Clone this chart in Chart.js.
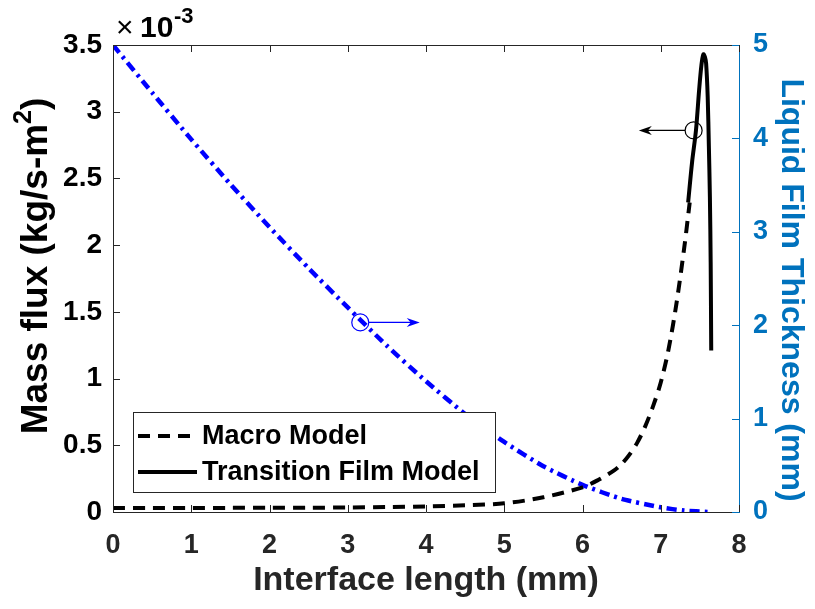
<!DOCTYPE html>
<html><head><meta charset="utf-8">
<script src="https://cdn.jsdelivr.net/npm/chart.js@4/dist/chart.umd.min.js"></script>
<style>html,body{margin:0;padding:0;background:#fff}</style>
</head><body>
<canvas id="c" width="815" height="609"></canvas>
<script>
// ---- data ----
const seriesLabels = ['Macro Model', 'Transition Film Model', 'Liquid Film Thickness'];
const axisTitles = {x: 'Interface length (mm)', yMain: 'Mass flux (kg/s-m', ySup: '2', yEnd: ')', y2: 'Liquid Film Thickness (mm)'};
// Macro model mass flux (kg/s-m^2)
const macroX    = [0, 0.5, 1, 1.5, 2, 2.5, 3, 3.5, 4, 4.5, 5, 5.5, 6, 6.2, 6.4, 6.5, 6.6, 6.7, 6.8, 6.9, 7.0, 7.1, 7.2, 7.3, 7.37];
const macroFlux = [3.0e-5, 3.0e-5, 3.0e-5, 3.1e-5, 3.1e-5, 3.2e-5, 3.4e-5, 3.7e-5, 4.2e-5, 5.0e-5, 6.5e-5, 1.1e-4, 1.85e-4, 2.4e-4, 3.1e-4, 3.6e-4, 4.3e-4, 5.2e-4, 6.4e-4, 7.9e-4, 9.7e-4, 1.22e-3, 1.56e-3, 1.98e-3, 2.32e-3];
// Transition film model mass flux (kg/s-m^2)
const filmX    = [7.35, 7.40, 7.45, 7.49, 7.52, 7.545, 7.565, 7.58, 7.60, 7.615, 7.628, 7.638, 7.645];
const filmFlux = [2.32e-3, 2.62e-3, 2.86e-3, 3.16e-3, 3.35e-3, 3.43e-3, 3.41e-3, 3.36e-3, 3.11e-3, 2.74e-3, 2.36e-3, 1.87e-3, 1.21e-3];
// Liquid film thickness (mm)
const thickX    = [0, 0.5, 1, 1.5, 2, 2.5, 3, 3.5, 4, 4.5, 5, 5.5, 6, 6.5, 7, 7.3, 7.6];
const thickness = [5.00, 4.49, 3.99, 3.51, 3.05, 2.61, 2.19, 1.78, 1.40, 1.05, 0.75, 0.49, 0.29, 0.14, 0.05, 0.015, 0.0];
// axis ranges / ticks
const xRange = [0, 8];
const fluxRange = [0, 3.5e-3];
const fluxStep = 0.5e-3;
const thickRange = [0, 5];
// annotation markers (data coords): circle point, arrow end x
const fluxMarker  = {x: 7.42, y: 2.86e-3, arrowToX: 6.72};
const thickMarker = {x: 3.16, y: 2.03, arrowToX: 3.92};

const FONT = '"Liberation Sans", Arial, Helvetica, sans-serif';
const GRAY = '#262626';
const MBLUE = '#0072BD';

const pts = (xs, ys) => xs.map((x, i) => ({x, y: ys[i]}));

const decor = {
  id: 'decor',
  afterDraw(chart) {
    const ctx = chart.ctx, ca = chart.chartArea;
    const sx = chart.scales.x, sy = chart.scales.y, sy2 = chart.scales.y2;
    ctx.save();
    // top border
    ctx.strokeStyle = GRAY; ctx.lineWidth = 1;
    ctx.beginPath(); ctx.moveTo(ca.left, ca.top + 0.5); ctx.lineTo(ca.right, ca.top + 0.5); ctx.stroke();
    // inward ticks
    const TL = 7;
    sx.ticks.forEach(t => {
      const p = Math.round(sx.getPixelForValue(t.value)) + 0.5;
      ctx.strokeStyle = GRAY;
      ctx.beginPath(); ctx.moveTo(p, ca.bottom); ctx.lineTo(p, ca.bottom - TL); ctx.stroke();
      ctx.beginPath(); ctx.moveTo(p, ca.top); ctx.lineTo(p, ca.top + TL); ctx.stroke();
    });
    sy.ticks.forEach(t => {
      const p = Math.round(sy.getPixelForValue(t.value)) + 0.5;
      ctx.strokeStyle = GRAY;
      ctx.beginPath(); ctx.moveTo(ca.left, p); ctx.lineTo(ca.left + TL, p); ctx.stroke();
    });
    sy2.ticks.forEach(t => {
      const p = Math.round(sy2.getPixelForValue(t.value)) + 0.5;
      ctx.strokeStyle = MBLUE;
      ctx.beginPath(); ctx.moveTo(ca.right, p); ctx.lineTo(ca.right - TL, p); ctx.stroke();
    });

    // annotation markers
    function marker(scaleY, m, color) {
      const cx = sx.getPixelForValue(m.x), cy = scaleY.getPixelForValue(m.y);
      const ex = sx.getPixelForValue(m.arrowToX);
      const r = 8.5, dir = ex > cx ? 1 : -1;
      ctx.strokeStyle = color; ctx.fillStyle = color; ctx.lineWidth = 1.2;
      ctx.beginPath(); ctx.arc(cx, cy, r, 0, Math.PI * 2); ctx.stroke();
      ctx.beginPath(); ctx.moveTo(cx + dir * r, cy); ctx.lineTo(ex - dir * 6, cy); ctx.stroke();
      ctx.beginPath();
      ctx.moveTo(ex, cy);
      ctx.lineTo(ex - dir * 13, cy - 4.5);
      ctx.lineTo(ex - dir * 9, cy);
      ctx.lineTo(ex - dir * 13, cy + 4.5);
      ctx.closePath(); ctx.fill();
    }
    marker(sy2, thickMarker, '#0000FF');
    marker(sy, fluxMarker, '#000000');

    // exponent label
    ctx.fillStyle = '#000';
    ctx.textBaseline = 'alphabetic'; ctx.textAlign = 'left';
    ctx.font = '30px ' + FONT;
    ctx.fillText('\u00D7', ca.left + 3, ca.top - 8);
    ctx.font = 'bold 30px ' + FONT;
    ctx.fillText('10', ca.left + 27, ca.top - 8);
    ctx.font = 'bold 22px ' + FONT;
    ctx.fillText('-3', ca.left + 61, ca.top - 22);

    // left axis title with superscript
    ctx.save();
    const fMain = 'bold 37px ' + FONT, fSup = 'bold 25px ' + FONT;
    ctx.font = fMain; const w1 = ctx.measureText(axisTitles.yMain).width, w3 = ctx.measureText(axisTitles.yEnd).width;
    ctx.font = fSup; const w2 = ctx.measureText(axisTitles.ySup).width;
    const tot = w1 + w2 + w3;
    ctx.translate(35, 266);
    ctx.rotate(-Math.PI / 2);
    ctx.fillStyle = '#000'; ctx.textBaseline = 'middle'; ctx.textAlign = 'left';
    let x0 = -tot / 2;
    ctx.font = fMain; ctx.fillText(axisTitles.yMain, x0, 2);
    ctx.font = fSup; ctx.fillText(axisTitles.ySup, x0 + w1, -11);
    ctx.font = fMain; ctx.fillText(axisTitles.yEnd, x0 + w1 + w2, 2);
    ctx.restore();

    // right axis title
    ctx.save();
    ctx.translate(791, 290);
    ctx.rotate(Math.PI / 2);
    ctx.fillStyle = MBLUE; ctx.textBaseline = 'middle'; ctx.textAlign = 'center';
    ctx.font = 'bold 32px ' + FONT;
    ctx.fillText(axisTitles.y2, 0, 0);
    ctx.restore();

    // legend
    const lx = ca.left + 20, ly = ca.bottom - 100, lw = 362, lh = 80;
    ctx.fillStyle = '#fff'; ctx.fillRect(lx, ly, lw, lh);
    ctx.strokeStyle = GRAY; ctx.lineWidth = 1;
    ctx.strokeRect(lx + 0.5, ly + 0.5, lw, lh);
    const items = [chart.data.datasets[0], chart.data.datasets[1]];
    items.forEach((ds, i) => {
      const yy = ly + 24 + i * 36;
      ctx.strokeStyle = ds.borderColor; ctx.lineWidth = ds.borderWidth;
      ctx.setLineDash(ds.borderDash || []);
      ctx.beginPath(); ctx.moveTo(lx + 5, yy); ctx.lineTo(lx + 64, yy); ctx.stroke();
      ctx.setLineDash([]);
      ctx.fillStyle = '#000'; ctx.font = 'bold 27px ' + FONT;
      ctx.textBaseline = 'middle';
      ctx.fillText(ds.label, lx + 69, yy + 1);
    });
    ctx.restore();
  }
};

new Chart(document.getElementById('c'), {
  type: 'scatter',
  data: {
    datasets: [
      {label: seriesLabels[0], data: pts(macroX, macroFlux), yAxisID: 'y', showLine: true,
       borderColor: '#000', borderWidth: 4, borderDash: [12, 8], pointRadius: 0, tension: 0.3, order: 2},
      {label: seriesLabels[1], data: pts(filmX, filmFlux), yAxisID: 'y', showLine: true,
       borderColor: '#000', borderWidth: 4, pointRadius: 0, tension: 0.3, order: 1},
      {label: seriesLabels[2], data: pts(thickX, thickness), yAxisID: 'y2', showLine: true,
       borderColor: '#0000FF', borderWidth: 4.5, borderDash: [10, 5, 3, 5], pointRadius: 0, tension: 0.2, order: 3}
    ]
  },
  options: {
    responsive: false, animation: false, devicePixelRatio: 1,
    layout: {padding: {top: 45, left: 0, right: 0, bottom: 0}},
    plugins: {legend: {display: false}, tooltip: {enabled: false}},
    scales: {
      x: {
        type: 'linear', min: xRange[0], max: xRange[1],
        ticks: {stepSize: 1, color: GRAY, padding: 17, font: {family: FONT, size: 27, weight: 'bold'}},
        grid: {display: false, drawTicks: false},
        border: {display: true, color: GRAY, width: 1},
        title: {display: true, text: axisTitles.x, color: GRAY, padding: {top: 6, bottom: 8},
                font: {family: FONT, size: 34, weight: 'bold'}},
        afterFit: s => { s.height = 97; }
      },
      y: {
        type: 'linear', position: 'left', min: fluxRange[0], max: fluxRange[1],
        ticks: {stepSize: fluxStep, color: '#000', padding: 11, font: {family: FONT, size: 28, weight: 'bold'},
                callback: v => String(+(v * 1e3).toFixed(1))},
        grid: {display: false, drawTicks: false},
        border: {display: true, color: GRAY, width: 1},
        title: {display: false},
        afterFit: s => { s.width = 113; }
      },
      y2: {
        type: 'linear', position: 'right', min: thickRange[0], max: thickRange[1],
        ticks: {stepSize: 1, color: MBLUE, padding: 14, font: {family: FONT, size: 27, weight: 'bold'}},
        grid: {display: false, drawTicks: false},
        border: {display: true, color: MBLUE, width: 1},
        title: {display: false},
        afterFit: s => { s.width = 76; }
      }
    }
  },
  plugins: [decor]
});
</script>
</body></html>
